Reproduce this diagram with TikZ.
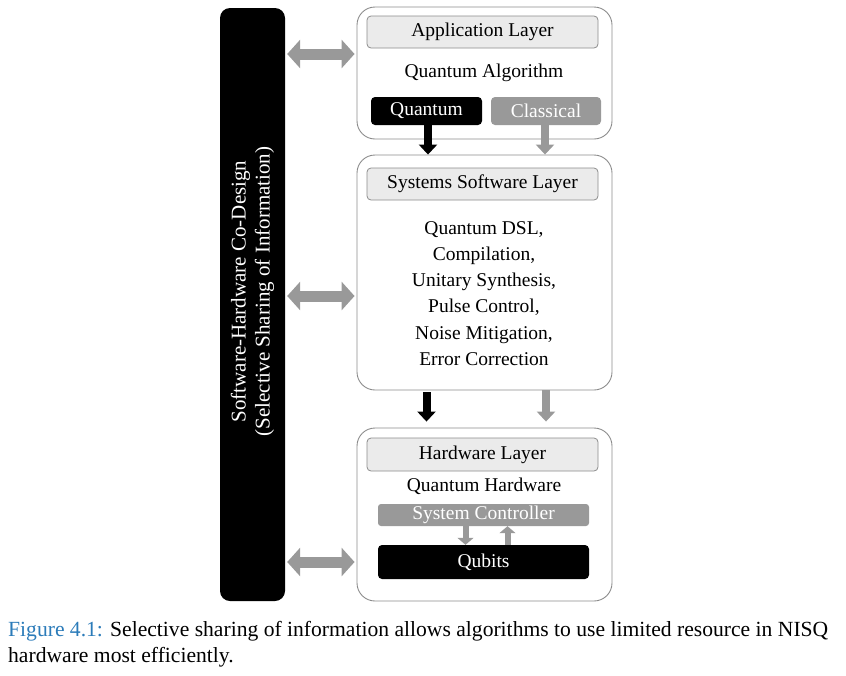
\documentclass[tikz,border=0pt]{standalone}
\usepackage{fontspec}
\setmainfont{Liberation Serif}
\usetikzlibrary{arrows.meta}
\usetikzlibrary{positioning}
\definecolor{arrowgray}{HTML}{999999}
\definecolor{headgray}{HTML}{EBEBEB}
\definecolor{linegray}{HTML}{8C8C8C}
\definecolor{captionblue}{HTML}{2B7BB9}

\tikzset{
  layer/.style={draw=linegray, line width=0.9pt, rounded corners=18pt, minimum width=255pt, inner sep=0pt},
  header/.style={draw=linegray, fill=headgray, line width=0.8pt, rounded corners=4pt, minimum width=231pt, minimum height=32pt, inner sep=0pt},
  solidbox/.style={rounded corners=4pt, inner sep=0pt, text=white},
  fatarrow/.style={line width=8pt, -{Triangle[length=10pt, width=18pt]}},
  twoway/.style={arrowgray, line width=11pt, {Triangle[length=13pt, width=28pt]}-{Triangle[length=13pt, width=28pt]}, shorten <=2pt, shorten >=2pt}
}

\begin{document}
\begin{tikzpicture}[x=1pt, y=-1pt, font=\fontsize{19.5}{23}\selectfont]
	\useasboundingbox (0,0) rectangle (846,675);

	% co-design bar
	\node[fill=black, rounded corners=10pt, minimum width=65pt, minimum height=593pt] (bar) at (252.5,304.5) {};
	\node[rotate=90, text=white, align=center, font=\fontsize{21}{24}\selectfont] (codesign) at ([yshift=13pt]bar.center) {Software-Hardware Co-Design\\(Selective Sharing of Information)};

	% layers
	\node[layer, minimum height=132pt] (app) at (484.5,73) {};
	\node[layer, minimum height=235pt] (sys) at (484.5,272.5) {};
	\node[layer, minimum height=173pt] (hw) at (484.5,514.5) {};

	\node[header] (apphead) at (482.5,32) {Application Layer};
	\node[header] (syshead) at (482.5,184) {Systems Software Layer};
	\node[header, minimum height=33pt] (hwhead) at (482.5,454.5) {Hardware Layer};

	\node (algo) at (484,73) {Quantum Algorithm};
	\node[solidbox, fill=black, minimum width=111pt, minimum height=28pt] (quantum) at (426.5,111) {Quantum};
	\node[solidbox, fill=arrowgray, minimum width=110pt, minimum height=28pt] (classical) at (546,111) {Classical};

	\node[align=center, font=\fontsize{19.5}{26.2}\selectfont] (tasks) at (484,293.5) {Quantum DSL,\\Compilation,\\Unitary Synthesis,\\Pulse Control,\\Noise Mitigation,\\Error Correction};

	\node (qhw) at (484,486) {Quantum Hardware};
	\node[solidbox, fill=arrowgray, rounded corners=3pt, minimum width=211pt, minimum height=22pt] (ctrl) at (483.5,515) {System Controller};
	\node[solidbox, fill=black, minimum width=211pt, minimum height=34pt] (qubits) at (483.5,562) {Qubits};

	% flow between layers
	\draw[fatarrow, black] ([xshift=1.5pt]quantum.south) -- ([xshift=1.5pt]quantum.south |- sys.north);
	\draw[fatarrow, arrowgray] ([xshift=-1pt]classical.south) -- ([xshift=-1pt]classical.south |- sys.north);
	\draw[fatarrow, black, shorten <=2pt, shorten >=6pt] (quantum.south |- sys.south) -- (quantum.south |- hw.north);
	\draw[fatarrow, arrowgray, shorten >=6pt] (classical.south |- sys.south) -- (classical.south |- hw.north);

	\draw[fatarrow, arrowgray, line width=6pt, -{Triangle[length=7pt, width=16pt]}] ([xshift=-18pt]ctrl.south) -- ([xshift=-18pt]qubits.north);
	\draw[fatarrow, arrowgray, line width=6pt, -{Triangle[length=7pt, width=16pt]}] ([xshift=24pt]qubits.north) -- ([xshift=24pt]ctrl.south);

	% sharing with the bar
	\draw[twoway] (bar.east |- 0,54) -- (app.west |- 0,54);
	\draw[twoway] (bar.east |- 0,296) -- (sys.west |- 0,296);
	\draw[twoway] (bar.east |- qubits) -- (hw.west |- qubits);

	% caption
	\node[anchor=north west, align=left, inner sep=0pt, font=\fontsize{21.6}{26}\selectfont] (caption) at (8,621) {\textcolor{captionblue}{Figure 4.1:} Selective sharing of information allows algorithms to use limited resource in NISQ\\hardware most efficiently.};
\end{tikzpicture}
\end{document}
